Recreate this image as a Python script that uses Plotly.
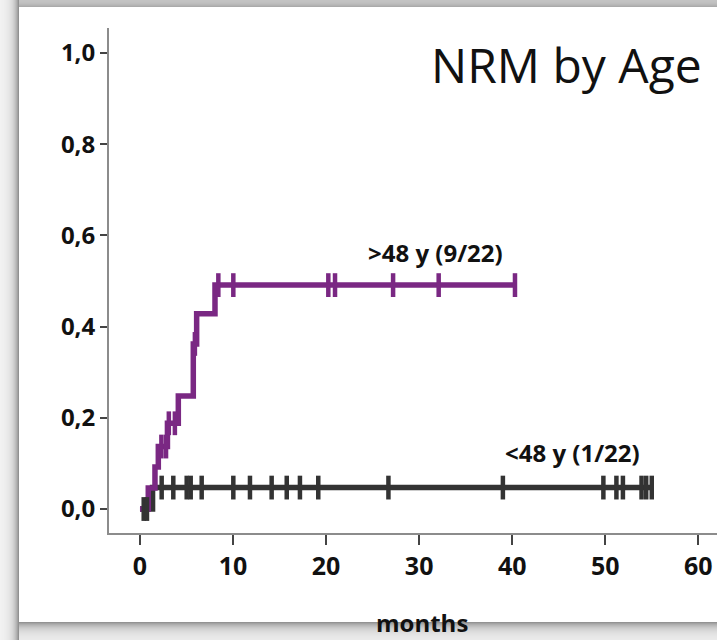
import math
import plotly.graph_objects as go

# ---------------- data ----------------
# >48 y group: event times (months) and cumulative incidence after each step
old_t = [0, 0.89, 1.61, 1.97, 2.95, 4.12, 5.73, 6.09, 8.06, 40.3]
old_v = [0, 0.046, 0.092, 0.137, 0.188, 0.248, 0.362, 0.428, 0.491, 0.491]
old_cens = [2.3, 2.8, 3.1, 3.75, 5.9, 8.42, 10.03, 20.24, 20.96, 27.2, 32.1, 40.3]

# <48 y group
young_t = [0, 1.35, 55.0]
young_v = [0, 0.047, 0.047]
young_cens_zero = [0.4, 0.75]
young_cens = [2.33, 3.58, 5.02, 5.45, 6.63, 10.03, 11.82, 14.15, 15.77, 17.19, 19.16,
              26.7, 39.0, 49.8, 51.2, 51.9, 53.9, 54.4, 55.0]

x_ticks = [0, 10, 20, 30, 40, 50, 60]
x_tick_labels = ["0", "10", "20", "30", "40", "50", "60"]
y_ticks = [0.0, 0.2, 0.4, 0.6, 0.8, 1.0]
y_tick_labels = ["0,0", "0,2", "0,4", "0,6", "0,8", "1,0"]

labels = [">48 y (9/22)", "<48 y (1/22)"]
title_text = "NRM by Age"
x_title = "months"

PURPLE = "#7a2883"
DARK = "#333333"


def level_at(ts, vs, t):
    val = vs[0]
    for tt, vv in zip(ts, vs):
        if tt <= t:
            val = vv
    return val


fig = go.Figure()

# black line
fig.add_trace(go.Scatter(x=young_t, y=young_v, mode="lines", line_shape="hv",
                         line=dict(color=DARK, width=5.5), hoverinfo="skip", showlegend=False))
fig.add_trace(go.Scatter(x=young_cens, y=[level_at(young_t, young_v, t) for t in young_cens],
                         mode="markers",
                         marker=dict(symbol="line-ns", size=17, line=dict(color=DARK, width=4.5)),
                         hoverinfo="skip", showlegend=False))
# purple line
fig.add_trace(go.Scatter(x=old_t, y=old_v, mode="lines", line_shape="hv",
                         line=dict(color=PURPLE, width=5.5), hoverinfo="skip", showlegend=False))
fig.add_trace(go.Scatter(x=old_cens, y=[level_at(old_t, old_v, t) for t in old_cens],
                         mode="markers",
                         marker=dict(symbol="line-ns", size=17, line=dict(color=PURPLE, width=4.5)),
                         hoverinfo="skip", showlegend=False))
# black censors at zero on top
fig.add_trace(go.Scatter(x=young_cens_zero, y=[0 for _ in young_cens_zero], mode="markers",
                         marker=dict(symbol="line-ns", size=17, line=dict(color=DARK, width=4.5)),
                         hoverinfo="skip", showlegend=False))

# ---------------- layout ----------------
W, H = 717, 640
L, R, T, B = 109, 0, 28, 107
PW, PH = W - L - R, H - T - B


def px(X):
    return (X - L) / PW


def py(Y):
    return (H - B - Y) / PH


shapes = []
# left shadow strip
for i in range(19):
    d = 19 - i - 0.5
    g = int(245 - 110 * math.exp(-d / 5))
    shapes.append(dict(type="rect", xref="paper", yref="paper", x0=px(i), x1=px(i + 1),
                       y0=py(640), y1=py(0), fillcolor=f"rgb({g},{g},{g})", line=dict(width=0),
                       layer="below"))
# top shadow strip
for j in range(7):
    d = 7 - j - 0.5
    g = int(200 - 35 * math.exp(-d / 3))
    shapes.append(dict(type="rect", xref="paper", yref="paper", x0=px(19), x1=px(717),
                       y0=py(j + 1), y1=py(j), fillcolor=f"rgb({g},{g},{g})", line=dict(width=0),
                       layer="below"))
# bottom shadow strip
for j in range(622, 640):
    d = j - 622 + 0.5
    g = int(240 - 100 * math.exp(-d / 6))
    shapes.append(dict(type="rect", xref="paper", yref="paper", x0=px(19), x1=px(717),
                       y0=py(j + 1), y1=py(j), fillcolor=f"rgb({g},{g},{g})", line=dict(width=0),
                       layer="below"))

annotations = [
    dict(x=31.8, y=0.5636, xref="x", yref="y", text=labels[0], showarrow=False,
         font=dict(family="Open Sans", size=24, color="#111111", weight="bold")),
    dict(x=46.5, y=0.125, xref="x", yref="y", text=labels[1], showarrow=False,
         font=dict(family="Open Sans", size=24, color="#111111", weight="bold")),
    dict(x=45.8, y=0.9737, xref="x", yref="y", text=title_text, showarrow=False,
         font=dict(family="Open Sans", size=48, color="#111111")),
    dict(x=30.3, y=py(622), xref="x", yref="paper", yanchor="middle", text=x_title,
         showarrow=False,
         font=dict(family="Open Sans", size=24, color="#111111", weight="bold")),
]

fig.update_layout(
    width=W, height=H,
    margin=dict(l=L, r=R, t=T, b=B, pad=0),
    paper_bgcolor="white", plot_bgcolor="white",
    shapes=shapes, annotations=annotations,
    xaxis=dict(range=[-3.33, 62.01], tickvals=x_ticks, ticktext=x_tick_labels,
               showgrid=False, zeroline=False, showline=True, linecolor="#8c8c8c", linewidth=2,
               ticks="outside", ticklen=10, tickwidth=2, tickcolor="#444444",
               tickfont=dict(family="Open Sans", size=25, color="#111111", weight="bold")),
    yaxis=dict(range=[-0.0526, 1.0548], tickvals=y_ticks, ticktext=y_tick_labels,
               showgrid=False, zeroline=False, showline=True, linecolor="#8c8c8c", linewidth=2,
               ticks="outside", ticklen=7, tickwidth=2, tickcolor="#444444",
               tickfont=dict(family="Open Sans", size=24, color="#111111", weight="bold")),
    font=dict(family="Open Sans"),
)

fig.write_html("out.html")
